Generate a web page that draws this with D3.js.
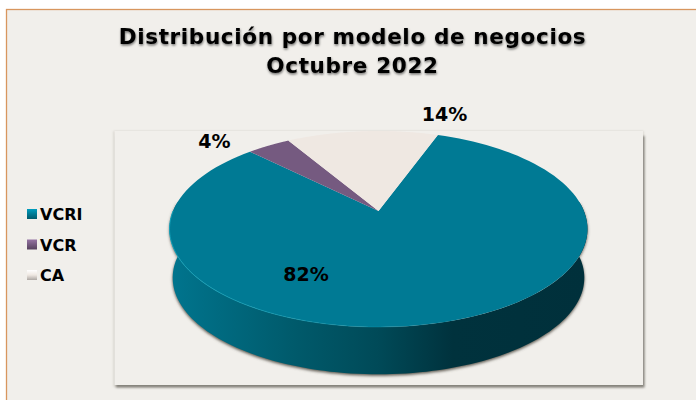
<!DOCTYPE html>
<html><head><meta charset="utf-8">
<script src="https://cdn.jsdelivr.net/npm/d3@7"></script>
<style>html,body{margin:0;padding:0;background:#fff;overflow:hidden}svg{display:block}</style>
</head><body><svg id="c" width="696" height="400"></svg>
<script>
const titleLines = ["Distribución por modelo de negocios", "Octubre 2022"];
const categories = ["VCRI", "VCR", "CA"];
const values = [82, 4, 14];
const sliceColors = ["#007a94", "#755a80", "#efe8e2"];
const labels = ["82%", "4%", "14%"];

const svg = d3.select("#c");
const defs = svg.append("defs");

function blurF(id, sd){
  defs.append("filter").attr("id", id).attr("x","-20%").attr("y","-20%").attr("width","140%").attr("height","140%")
    .append("feGaussianBlur").attr("stdDeviation", sd);
}
blurF("b1", 1.5); blurF("b2", 1.1);
const tf = defs.append("filter").attr("id","ts").attr("x","-5%").attr("y","-20%").attr("width","110%").attr("height","150%");
tf.append("feDropShadow").attr("dx",0.5).attr("dy",1.5).attr("stdDeviation",1).attr("flood-color","#000").attr("flood-opacity",0.55);

const side = defs.append("linearGradient").attr("id","side").attr("gradientUnits","userSpaceOnUse")
  .attr("x1",170).attr("x2",586).attr("y1",0).attr("y2",0);
[[0,"#00758e"],[0.12,"#006a80"],[0.3,"#005a6b"],[0.5,"#004a58"],[0.68,"#00323d"],[1,"#00303b"]]
  .forEach(s=>side.append("stop").attr("offset",s[0]).attr("stop-color",s[1]));
const rim = defs.append("linearGradient").attr("id","rim").attr("gradientUnits","userSpaceOnUse")
  .attr("x1",170).attr("x2",480).attr("y1",0).attr("y2",0);
rim.append("stop").attr("offset",0).attr("stop-color","#12a0b8");
rim.append("stop").attr("offset",1).attr("stop-color","#12a0b8").attr("stop-opacity",0);

sliceColors.forEach((c,i)=>{
  const g = defs.append("linearGradient").attr("id","lg"+i).attr("x1",0).attr("x2",0).attr("y1",0).attr("y2",1);
  g.append("stop").attr("offset",0).attr("stop-color",d3.color(c).brighter(0.7));
  g.append("stop").attr("offset",0.5).attr("stop-color",c);
  g.append("stop").attr("offset",1).attr("stop-color",d3.color(c).darker(0.9));
});

svg.append("rect").attr("x",6.5).attr("y",9.5).attr("width",700).attr("height",400)
  .attr("fill","#f1efeb").attr("stroke","#d8965e").attr("stroke-width",1.3);

// plot panel
svg.append("rect").attr("x",113.5).attr("y",131).attr("width",530).attr("height",256).attr("fill","#d4d1ca").attr("filter","url(#b2)");
svg.append("rect").attr("x",116).attr("y",136).attr("width",528.5).attr("height",251.5).attr("fill","#85827a").attr("filter","url(#b2)");
svg.append("rect").attr("x",114.5).attr("y",131).attr("width",528.5).attr("height",254).attr("fill","#f1efeb");

// title
svg.append("g").selectAll("text").data(titleLines).join("text")
  .attr("x",352.5).attr("y",(d,i)=>44+i*28.5).attr("text-anchor","middle")
  .attr("font-family","DejaVu Sans").attr("font-weight","bold").attr("font-size",21.5)
  .attr("letter-spacing",0.65).attr("fill","#000").attr("filter","url(#ts)").text(d=>d);

// perspective mapping of a pie angle on the disc
const cx = 378.5, apexY = 211, kx = 205.4, ky = 94.7, persp = 0.1837;
const startA = 19.8 * Math.PI / 180;
const pie = d3.pie().sort(null).value(d=>d).startAngle(startA).endAngle(startA + 2*Math.PI);
const arcs = pie(values);
const proj = (a, dy=0, sc=1) => {
  const den = 1 + persp*Math.cos(a);
  return [cx + sc*kx*Math.sin(a)/den, apexY + dy - sc*ky*Math.cos(a)/den];
};
const line = d3.line();
const sample = (a0,a1,dy,sc) => d3.range(0,121).map(i=>proj(a0+(a1-a0)*i/120,dy,sc));
const DEPTH = 49, SC = 0.985;

// side wall: front half of the disc and of its lower copy
const wall = sample(Math.PI/2-0.1, 3*Math.PI/2+0.1, 0, 1)
  .concat(sample(3*Math.PI/2+0.1, Math.PI/2-0.1, DEPTH, SC));
svg.append("path").attr("d", line(wall)+"Z").attr("transform","translate(0,1.5)").attr("fill","#5a564e").attr("filter","url(#b1)");
svg.append("path").attr("d", line(wall)+"Z").attr("fill","url(#side)");

// top slices
const center = proj(0,0,0);
svg.append("g").selectAll("path").data(arcs).join("path")
  .attr("d", d => line([center].concat(sample(d.startAngle,d.endAngle,0,1)))+"Z")
  .attr("fill",(d,i)=>sliceColors[i]);
svg.append("path").attr("d", line(sample(Math.PI/2+0.3, 3*Math.PI/2, 0, 1)))
  .attr("fill","none").attr("stroke","url(#rim)").attr("stroke-width",1);

// data labels
const labelX = d3.scaleOrdinal().domain(categories).range([306,214.5,444.5]);
const labelY = d3.scaleOrdinal().domain(categories).range([280.5,148,121]);
svg.append("g").selectAll("text").data(labels).join("text")
  .attr("x",(d,i)=>labelX(categories[i])).attr("y",(d,i)=>labelY(categories[i]))
  .attr("text-anchor","middle").attr("font-family","DejaVu Sans").attr("font-weight","bold")
  .attr("font-size",19).attr("fill","#000").text(d=>d);

// legend
const ly = d3.scalePoint().domain(categories).range([214,275]);
const lg = svg.append("g").selectAll("g").data(categories).join("g").attr("transform",d=>`translate(0,${ly(d)})`);
lg.append("rect").attr("x",27).attr("y",-5).attr("width",10).attr("height",10).attr("fill",(d,i)=>`url(#lg${i})`);
lg.append("text").attr("x",40).attr("y",6).attr("font-family","DejaVu Sans").attr("font-weight","bold")
  .attr("font-size",16).attr("fill","#000").text(d=>d);
</script></body></html>
